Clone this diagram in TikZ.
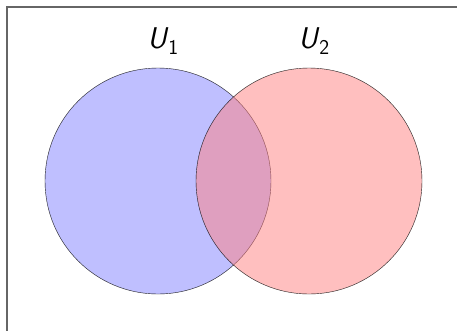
\documentclass[tikz,border=0pt]{standalone}
\begin{document}
\begin{tikzpicture}[x=1pt,y=-1pt,
  setc/.style={draw=black, fill opacity=0.5, draw opacity=0.5},
  lbl/.style={font=\fontsize{30}{32}\selectfont\sffamily}]
\useasboundingbox (0,0) rectangle (457,330);
\clip (0,0) rectangle (457,330);
\draw[black!60, line width=1.2pt] (7,7) rectangle (480,350);
\fill[blue!50, setc] (158,181) circle[radius=113];
\draw[black, opacity=0.5] (158,181) circle[radius=113];
\fill[red!50, setc] (309,181) circle[radius=113];
\draw[black, opacity=0.5] (309,181) circle[radius=113];
\node[lbl] (u1) at (163,41) {\textit{U}\textsubscript{1}};
\node[lbl] (u2) at (314,41) {\textit{U}\textsubscript{2}};
\end{tikzpicture}
\end{document}
